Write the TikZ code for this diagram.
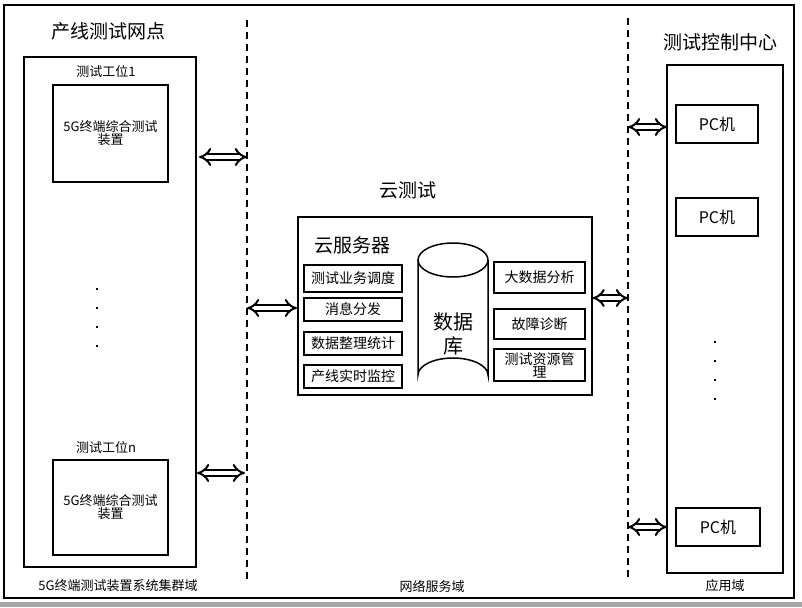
\documentclass[tikz,border=0pt]{standalone}
\usepackage{fontspec}
\setmainfont{Noto Sans CJK SC}
\usetikzlibrary{arrows.meta}
\tikzset{
  x=1pt,y=-1pt,
  frame/.style={draw,line width=1.6pt},
  box/.style={draw,line width=1.5pt,align=center,inner sep=0pt},
  divider/.style={line width=1.8pt,dash pattern=on 7pt off 5pt},
  dbl/.style={line width=2pt,double,double distance=4pt,{Implies[length=8pt,width=15pt]}-{Implies[length=8pt,width=15pt]}},
  big/.style={font=\fontsize{19}{21}\selectfont},
  mid/.style={font=\fontsize{14}{16}\selectfont},
  small/.style={font=\fontsize{13}{15}\selectfont},
  pc/.style={font=\fontsize{16}{18}\selectfont},
  dot/.style={fill,inner sep=0pt,minimum size=2.2pt},
}
\begin{document}
\begin{tikzpicture}
\useasboundingbox (0,0) rectangle (802,607);
\fill[white] (0,0) rectangle (802,607);
% bottom gray bar
\fill[gray!70] (0,602) rectangle (802,607);
% outer frame
\draw[frame] (4,5) rectangle (794,598);
% dividers
\coordinate (d1t) at (247,20);
\coordinate (d1b) at (247,580);
\coordinate (d2t) at (628,18);
\coordinate (d2b) at (628,580);
\draw[divider] (d1t) -- (d1b);
\draw[divider] (d2t) -- (d2b);

% left domain
\node[big] (t1) at (108,31) {产线测试网点};
\draw[frame] (24,57) rectangle (196,567);
\node[small] (w1) at (106,72) {测试工位1};
\node[box,minimum width=115pt,minimum height=97pt,small] (dev1) at (110.5,133.5) {5G终端综合测试\\[-2pt]装置};
\foreach \yy [count=\i] in {289,308,327,346} \node[dot] (ld\i) at (97,\yy) {};
\node[small] (wn) at (106,447) {测试工位n};
\node[box,minimum width=115pt,minimum height=95pt,small] (devn) at (110.5,507.5) {5G终端综合测试\\[-2pt]装置};
\node[small] (l1) at (118,586) {5G终端测试装置系统集群域};

% middle domain
\node[big] (t2) at (408,190) {云测试};
\node[box,minimum width=294pt,minimum height=178pt,anchor=north west] (cloud) at (297,216) {};
\node[big] (srv) at (352,245) {云服务器};
\node[box,mid,minimum width=98pt,minimum height=27pt] (s1) at (353,278.5) {测试业务调度};
\node[box,mid,minimum width=98pt,minimum height=23pt] (s2) at (353,309.5) {消息分发};
\node[box,mid,minimum width=98pt,minimum height=23pt] (s3) at (353,343.5) {数据整理统计};
\node[box,mid,minimum width=98pt,minimum height=23pt] (s4) at (353,376.5) {产线实时监控};
% database cylinder
\draw[line width=1.5pt,fill=white] (418,260) -- (418,375) arc[start angle=180,end angle=360,x radius=35,y radius=17] -- (488,260);
\draw[line width=1.5pt] (453,260) ellipse[x radius=35,y radius=17];
\node[font=\fontsize{20}{24}\selectfont,align=center] (dbt) at (453,334) {数据\\库};
\node[box,mid,minimum width=91pt,minimum height=31pt] (r1) at (539.5,277.5) {大数据分析};
\node[box,mid,minimum width=91pt,minimum height=30pt] (r2) at (539.5,324) {故障诊断};
\node[box,mid,minimum width=91pt,minimum height=32pt,text width=85pt,font=\fontsize{14}{13}\selectfont] (r3) at (539.5,365) {测试资源管\\理};
\node[small] (l2) at (432,586) {网络服务域};

% right domain
\node[big] (t3) at (720,42) {测试控制中心};
\draw[frame] (667,65) rectangle (783,573);
\node[box,pc,minimum width=82pt,minimum height=38pt] (pc1) at (717,124) {PC机};
\node[box,pc,minimum width=82pt,minimum height=38pt] (pc2) at (717,217) {PC机};
\foreach \yy [count=\i] in {342,361,380,399} \node[dot] (rd\i) at (715,\yy) {};
\node[box,pc,minimum width=84pt,minimum height=38pt] (pcn) at (718,527) {PC机};
\node[small] (l3) at (725,586) {应用域};

% double arrows
\coordinate (a1s) at (199,157); \coordinate (a1e) at (247,157);
\coordinate (a2s) at (197,473); \coordinate (a2e) at (245,473);
\coordinate (a3s) at (247,308);
\coordinate (a4e) at (628,298);
\coordinate (a5s) at (628,127); \coordinate (a5e) at (667,127);
\coordinate (a6s) at (628,527); \coordinate (a6e) at (667,527);
\draw[dbl] (a1s) -- (a1e);
\draw[dbl] (a2s) -- (a2e);
\draw[dbl] (a3s) -- (cloud.west |- a3s);
\draw[dbl] (cloud.east |- a4e) -- (a4e);
\draw[dbl] (a5s) -- (a5e);
\draw[dbl] (a6s) -- (a6e);
\end{tikzpicture}
\end{document}
